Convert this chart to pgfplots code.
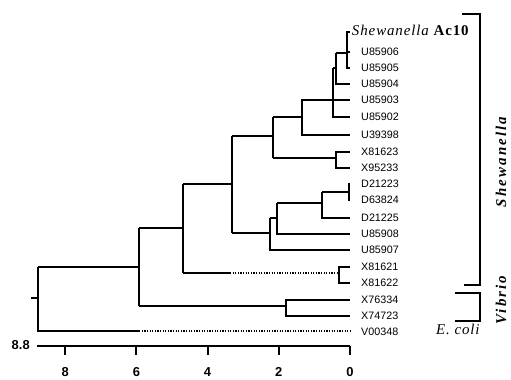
\documentclass[border=0pt]{standalone}
\usepackage{fontspec}
\setmainfont{Liberation Sans}
\newfontfamily\spserif[LetterSpace=6]{Liberation Serif}
\newfontfamily\wideserif[LetterSpace=14]{Liberation Serif}
\usepackage{pgfplots}
\pgfplotsset{compat=1.18}
\tikzset{
  tr/.style={black, line width=1.9bp},
  dt/.style={black, line width=1.9bp, dash pattern=on 1.2bp off 1.4bp},
  lf/.style={anchor=west, inner sep=0pt, font=\fontsize{10.8}{10.8}\selectfont},
  tl/.style={inner sep=0pt, font=\fontsize{13}{13}\selectfont\bfseries}
}
\begin{document}
\begin{tikzpicture}
\begin{axis}[
  width=511bp, height=380bp, scale only axis,
  x dir=reverse, xmin=-4.522, xmax=9.831,
  y dir=reverse, ymin=0, ymax=380,
  hide axis, clip=false
]
% --- top Shewanella cluster
\addplot[tr] coordinates {(0,32) (0.093,32) (0.093,68) (0,68)};
\addplot[tr] coordinates {(0.093,52) (0,52)};
\addplot[tr] coordinates {(0.093,53) (0.39,53)};
\addplot[tr] coordinates {(0.39,53) (0.39,84) (0,84)};
\addplot[tr] coordinates {(0.39,68) (0.486,68)};
\addplot[tr] coordinates {(0.486,68) (0.486,117) (0,117)};
\addplot[tr] coordinates {(0,100) (1.357,100) (1.357,135) (0,135)};
\addplot[tr] coordinates {(1.357,117) (2.17,117)};
\addplot[tr] coordinates {(0,152) (0.39,152) (0.39,168) (0,168)};
\addplot[tr] coordinates {(0.39,158) (2.17,158)};
\addplot[tr] coordinates {(2.17,117) (2.17,158)};
\addplot[tr] coordinates {(2.17,136) (3.32,136)};
% --- D cluster
\addplot[tr] coordinates {(0,184) (0.03,184) (0.03,200) (0,200)};
\addplot[tr] coordinates {(0.03,192) (0.79,192)};
\addplot[tr] coordinates {(0.79,192) (0.79,218) (0,218)};
\addplot[tr] coordinates {(0.79,203) (2.06,203)};
\addplot[tr] coordinates {(2.06,203) (2.06,234) (0,234)};
\addplot[tr] coordinates {(2.06,218) (2.25,218)};
\addplot[tr] coordinates {(2.25,218) (2.25,250) (0,250)};
\addplot[tr] coordinates {(2.25,233) (3.32,233)};
\addplot[tr] coordinates {(3.32,136) (3.32,233)};
\addplot[tr] coordinates {(3.32,184) (4.70,184)};
% --- X81621 pair
\addplot[tr] coordinates {(0,267) (0.30,267) (0.30,283) (0,283)};
\addplot[tr] coordinates {(4.70,273) (3.37,273)};
\addplot[dt] coordinates {(3.37,273) (0.30,273)};
\addplot[tr] coordinates {(4.70,184) (4.70,273)};
\addplot[tr] coordinates {(4.70,228) (5.92,228)};
% --- Vibrio
\addplot[tr] coordinates {(0,300) (1.80,300) (1.80,316) (0,316)};
\addplot[tr] coordinates {(1.80,306) (5.92,306)};
\addplot[tr] coordinates {(5.92,228) (5.92,306)};
\addplot[tr] coordinates {(5.92,267) (8.76,267)};
% --- root and E. coli
\addplot[tr] coordinates {(8.76,267) (8.76,331) (5.92,331)};
\addplot[dt] coordinates {(5.92,331) (0,331)};
\addplot[tr] coordinates {(8.76,298) (8.96,298)};
% --- scale axis
\addplot[tr] coordinates {(8.8,346) (0,346)};
\addplot[tr] coordinates {(8,346) (8,355)};
\addplot[tr] coordinates {(6,346) (6,355)};
\addplot[tr] coordinates {(4,346) (4,355)};
\addplot[tr] coordinates {(2,346) (2,355)};
\addplot[tr] coordinates {(0,346) (0,355)};
\node[tl] at (axis cs:8,372) {8};
\node[tl] at (axis cs:6,372) {6};
\node[tl] at (axis cs:4,372) {4};
\node[tl] at (axis cs:2,372) {2};
\node[tl] at (axis cs:0,372) {0};
\node[tl, anchor=east] at (axis cs:8.99,345) {8.8};
% --- leaf labels
\node[anchor=west, inner sep=0pt, font=\fontsize{15}{15}\selectfont] at (axis cs:-0.05,30) {\spserif\itshape Shewanella \upshape\bfseries Ac10};
\node[lf] at (axis cs:-0.31,52) {U85906};
\node[lf] at (axis cs:-0.31,68) {U85905};
\node[lf] at (axis cs:-0.31,84) {U85904};
\node[lf] at (axis cs:-0.31,100) {U85903};
\node[lf] at (axis cs:-0.31,117) {U85902};
\node[lf] at (axis cs:-0.31,135) {U39398};
\node[lf] at (axis cs:-0.31,152) {X81623};
\node[lf] at (axis cs:-0.31,168) {X95233};
\node[lf] at (axis cs:-0.31,184) {D21223};
\node[lf] at (axis cs:-0.31,200) {D63824};
\node[lf] at (axis cs:-0.31,218) {D21225};
\node[lf] at (axis cs:-0.31,234) {U85908};
\node[lf] at (axis cs:-0.31,250) {U85907};
\node[lf] at (axis cs:-0.31,267) {X81621};
\node[lf] at (axis cs:-0.31,283) {X81622};
\node[lf] at (axis cs:-0.31,300) {X76334};
\node[lf] at (axis cs:-0.31,316) {X74723};
\node[lf] at (axis cs:-0.31,332) {V00348};
% --- group brackets
\addplot[tr] coordinates {(-3.138,14) (-3.652,14) (-3.652,285) (-3.202,285)};
\addplot[tr] coordinates {(-2.949,293) (-3.652,293) (-3.652,321) (-2.949,321)};
\node[rotate=90, inner sep=0pt, font=\fontsize{15}{15}\selectfont] at (axis cs:-4.24,162) {\wideserif\bfseries\itshape Shewanella};
\node[rotate=90, inner sep=0pt, font=\fontsize{15}{15}\selectfont] at (axis cs:-4.24,300) {\wideserif\bfseries\itshape Vibrio};
\node[inner sep=0pt, font=\fontsize{15}{15}\selectfont] at (axis cs:-3.03,329) {\spserif\itshape E. coli};
\end{axis}
\pgfresetboundingbox
\path[use as bounding box] (current axis.south west) rectangle (current axis.north east);
\end{tikzpicture}
\end{document}
